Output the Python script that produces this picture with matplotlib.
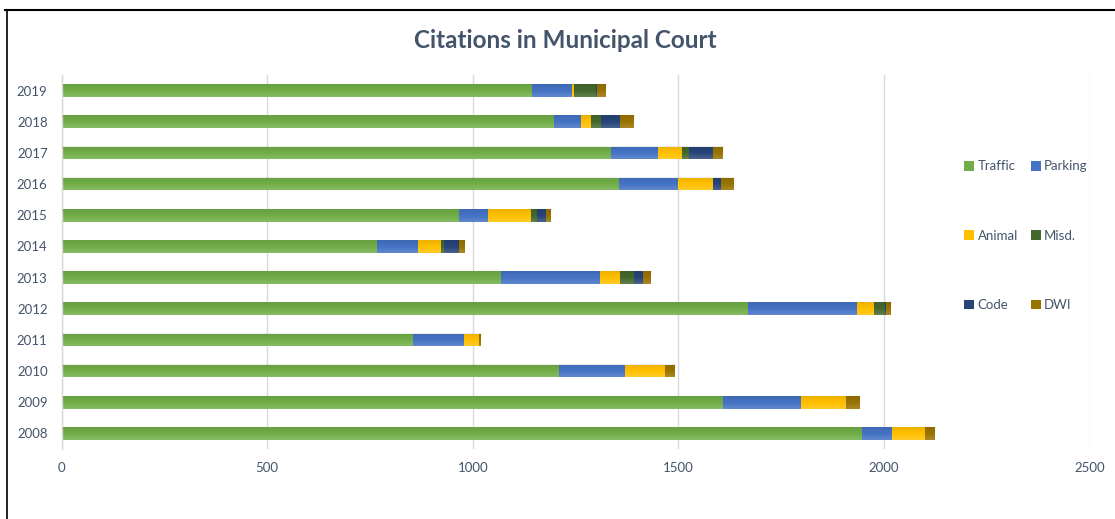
import numpy as np
import matplotlib
matplotlib.use("Agg")
import matplotlib.pyplot as plt
from matplotlib.lines import Line2D
from matplotlib.patches import Patch

# Citation counts by year and type
years = ["2008", "2009", "2010", "2011", "2012", "2013",
         "2014", "2015", "2016", "2017", "2018", "2019"]
traffic = [1946, 1609, 1210, 855, 1669, 1069, 767, 967, 1356, 1336, 1198, 1144]
parking = [73, 189, 160, 124, 266, 241, 100, 70, 144, 115, 65, 97]
animal = [81, 110, 98, 36, 41, 48, 56, 105, 84, 58, 25, 5]
misd = [0, 0, 0, 0, 27, 34, 7, 14, 0, 17, 24, 55]
code = [0, 0, 0, 0, 2, 22, 37, 22, 20, 58, 46, 2]
dwi = [24, 34, 24, 5, 12, 19, 14, 12, 32, 25, 34, 20]

series_names = ["Traffic", "Parking", "Animal", "Misd.", "Code", "DWI"]
series_values = [traffic, parking, animal, misd, code, dwi]
series_colors = ["#70AD47", "#4472C4", "#FFC000", "#43682B", "#264478", "#997300"]

x_ticks = [0, 500, 1000, 1500, 2000, 2500]
title = "Citations in Municipal Court"

text_color = "#44546A"
grid_color = "#D9D9D9"
plt.rcParams["font.family"] = ["Lato", "DejaVu Sans"]

W, H = 1115, 519
fig = plt.figure(figsize=(W / 100, H / 100), dpi=100)
ax = fig.add_axes([61.5 / W, (H - 449) / H, 1028 / W, 374 / H])

ypos = np.arange(len(years))
bar_h = 0.41
left = np.zeros(len(years))
for name, vals, col in zip(series_names, series_values, series_colors):
    vals = np.asarray(vals, dtype=float)
    ax.barh(ypos, vals, height=bar_h, left=left, color=col, label=name,
            linewidth=0, zorder=2)
    left += vals

# soft vertical shading across each stacked bar
shade = np.zeros((32, 1, 4))
t = np.linspace(0, 1, 32)
shade[:, 0, :3] = np.where(t[:, None] < 0.5, 1.0, 0.0)
shade[:, 0, 3] = np.where(t < 0.5, 0.16 * (1 - 2 * t), 0.08 * (2 * t - 1))
for y, total in zip(ypos, left):
    ax.imshow(shade, extent=(0, total, y + bar_h / 2, y - bar_h / 2),
              aspect="auto", interpolation="bilinear", zorder=3)

ax.set_xlim(0, 2500)
ax.set_ylim(-0.5, len(years) - 0.5)
ax.set_xticks(x_ticks)
ax.set_xticklabels([str(v) for v in x_ticks])
ax.set_yticks(ypos)
ax.set_yticklabels(years)
ax.tick_params(axis="both", length=0, labelsize=9.5, labelcolor=text_color)
ax.tick_params(axis="x", pad=9)
ax.tick_params(axis="y", pad=10)
ax.grid(axis="x", color=grid_color, linewidth=1, zorder=0)
ax.set_axisbelow(True)
for side in ["top", "right", "bottom"]:
    ax.spines[side].set_visible(False)
ax.spines["left"].set_color(grid_color)
ax.spines["left"].set_linewidth(1)

fig.text(565 / W, 1 - 40 / H, title, ha="center", va="center",
         fontsize=17.5, fontweight="bold", color=text_color)

# legend laid out row by row in two columns
handles = [Patch(facecolor=c, edgecolor="none") for c in series_colors]
order = [0, 2, 4, 1, 3, 5]
leg = fig.legend([handles[i] for i in order], [series_names[i] for i in order],
                 ncol=2, loc="upper left", bbox_to_anchor=(959 / W, 1 - 155 / H),
                 frameon=False, fontsize=9.5, labelcolor=text_color,
                 handlelength=0.75, handleheight=0.75, handletextpad=0.25,
                 columnspacing=1.0, labelspacing=4.35, borderaxespad=0)

# chart frame edges
fig.add_artist(Line2D([5 / W, 1], [1 - 9.5 / H, 1 - 9.5 / H], color="black",
                      linewidth=1.5, transform=fig.transFigure))
fig.add_artist(Line2D([6.5 / W, 6.5 / W], [0, 1 - 9.5 / H], color="black",
                      linewidth=1.2, transform=fig.transFigure))

fig.savefig("out.png", dpi=100, facecolor="white")
